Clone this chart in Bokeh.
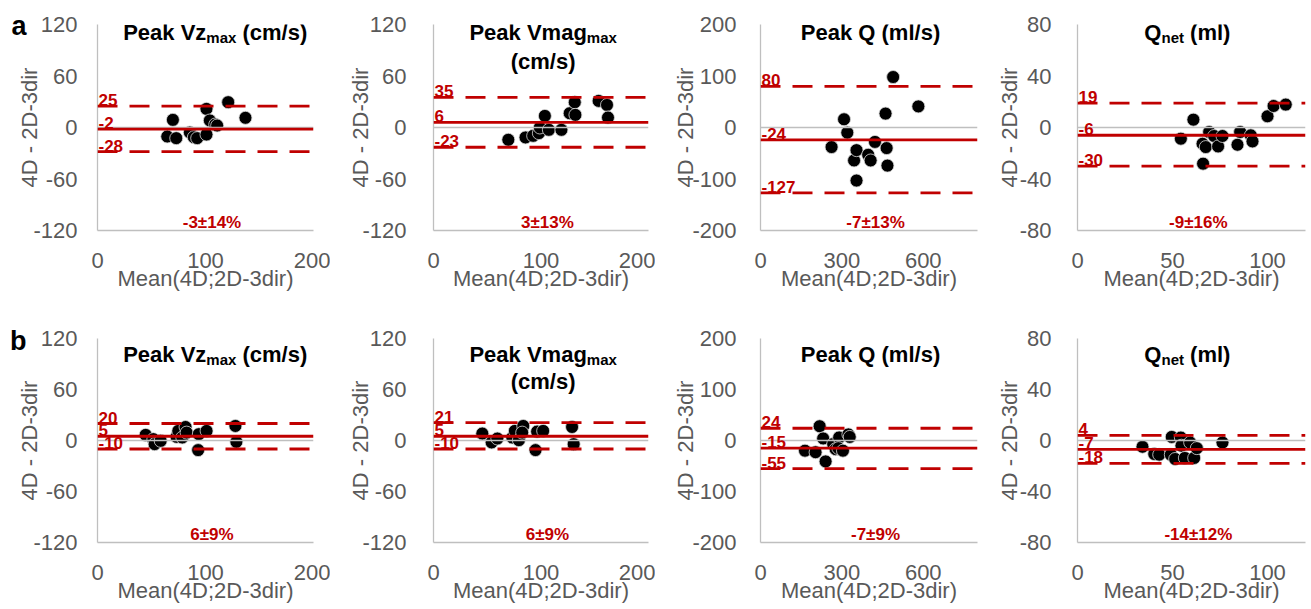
from bokeh.plotting import figure
from bokeh.layouts import row, column
from bokeh.models import Range1d, FixedTicker, Span, Label, LinearAxis
from bokeh.embed import file_html
from bokeh.resources import INLINE

# ---------------- data ----------------
# Row a
a1_x = [64.6, 69.8, 72.9, 85.5, 89.2, 92.3, 100.9, 100.9, 104.0, 109.0, 110.8, 121.0, 137.0]
a1_y = [-10.5, 8.9, -12.4, -5.8, -11.3, -12.4, 21.7, -8.2, 8.2, 3.5, 2.3, 29.5, 11.3]
a2_x = [69.6, 85.6, 92.7, 98.0, 98.9, 103.6, 107.3, 119.0, 126.7, 131.4, 132.0, 153.6, 161.4, 162.3]
a2_y = [-14.3, -11.6, -9.7, -6.6, 0.0, 13.5, -2.7, -2.7, 16.6, 29.4, 14.7, 31.0, 26.3, 11.6]
a3_x = [262, 308, 320, 345, 354, 354, 397, 406, 422, 461, 465, 468, 489, 582]
a3_y = [-38, 16, -10, -64, -44, -103, -53, -64, -28, 27, -40, -74, 98, 41]
a4_x = [54.4, 61.0, 65.8, 67.5, 66.1, 69.3, 71.9, 74.0, 76.3, 84.2, 85.6, 91.2, 92.1, 100.0, 103.2, 109.6]
a4_y = [-8.7, 6.1, -12.6, -15.2, -28.1, -3.5, -6.6, -14.7, -6.6, -13.4, -3.5, -6.1, -10.8, 8.7, 16.7, 17.8]
# Row b
b1_x = [44.6, 51.7, 52.9, 58.5, 73.2, 74.8, 78.5, 81.5, 82.5, 93.8, 93.2, 101.0, 127.7, 128.6]
b1_y = [6.6, 1.6, -4.3, -0.4, 4.3, 11.3, 3.5, 15.9, 9.3, 7.4, -11.3, 11.3, 17.1, -1.6]
b2_x = [45.4, 54.1, 59.4, 73.3, 75.7, 79.4, 83.5, 82.5, 96.4, 102.0, 94.9, 128.9, 130.4]
b2_y = [8.2, -2.3, 2.3, 3.5, 11.3, 0.4, 17.1, 9.3, 10.5, 11.3, -11.3, 15.9, -4.3]
b3_x = [164, 203, 218, 231, 240, 268, 277, 290, 287, 304, 324, 329]
b3_y = [-20, -23, 28, 4, -41, -7, -17, 6, -15, -20, 12, 7]
b4_x = [34.2, 40.4, 43.0, 49.1, 49.6, 51.4, 54.4, 54.7, 56.5, 59.3, 61.4, 62.8, 76.3]
b4_y = [-4.9, -10.6, -11.1, -11.1, 2.8, -14.5, 2.3, -4.1, -13.7, -1.6, -13.7, -6.0, -1.6]

# Bland-Altman statistics: mean bias, upper and lower limits of agreement
a_bias = [-2, 6, -24, -6]
a_upper = [25, 35, 80, 19]
a_lower = [-28, -23, -127, -30]
a_pct = ["-3\u00b114%", "3\u00b113%", "-7\u00b113%", "-9\u00b116%"]
b_bias = [5, 5, -15, -7]
b_upper = [20, 21, 24, 4]
b_lower = [-10, -10, -55, -18]
b_pct = ["6\u00b19%", "6\u00b19%", "-7\u00b19%", "-14\u00b112%"]

# axes
x_max = [200, 200, 800, 120]
y_lim = [120, 120, 200, 80]
x_ticks = [[0, 100, 200], [0, 100, 200], [0, 300, 600], [0, 50, 100]]
y_ticks = [[-120, -60, 0, 60, 120], [-120, -60, 0, 60, 120],
           [-200, -100, 0, 100, 200], [-80, -40, 0, 40, 80]]
# titles: (main, subscript, tail, second line)
titles = [("Peak Vz", "max", "(cm/s)", None),
          ("Peak Vmag", "max", "", "(cm/s)"),
          ("Peak Q (ml/s)", "", "", None),
          ("Q", "net", "(ml)", None)]
x_title = "Mean(4D;2D-3dir)"
y_title = "4D - 2D-3dir"
panel_letters = ["a", "b"]

# ---------------- styling ----------------
RED = "#C00000"
GREY_TXT = "#595959"
GREY_LN = "#BFBFBF"
FONT = "Liberation Sans"

BOLD_W = {'P': 667, 'e': 556, 'a': 556, 'k': 556, ' ': 278, 'V': 667, 'z': 500,
          'm': 889, 'g': 611, 'Q': 778, '(': 333, ')': 333, 'c': 556, '/': 278,
          's': 556, 'l': 278, 'n': 611, 't': 333, 'x': 556}


def bw(s, size):
    return sum(BOLD_W.get(ch, 556) for ch in s) * size / 1000.0


cols = [dict(W=330, left=97, right=17, ystand=14, ylab=-12, cfrac=0.545),
        dict(W=325, left=103, right=7, ystand=21, ylab=-14, cfrac=0.51),
        dict(W=330, left=105, right=8, ystand=18, ylab=-9, cfrac=0.507),
        dict(W=326, left=92, right=6, ystand=20, ylab=-5, cfrac=0.482)]
rows_cfg = [dict(H=314, top=24, bottom=84, t1=0, t2=29, letter=1),
            dict(H=291, top=24, bottom=61, t1=8, t2=36, letter=3)]
FH = 206
TF = 22   # title font size
SF = 15   # subscript font size
SP = 278 * TF / 1000.0  # width of a space in the title font
LW = 2.8

data = [[(a1_x, a1_y), (a2_x, a2_y), (a3_x, a3_y), (a4_x, a4_y)],
        [(b1_x, b1_y), (b2_x, b2_y), (b3_x, b3_y), (b4_x, b4_y)]]
stats = [(a_bias, a_upper, a_lower, a_pct), (b_bias, b_upper, b_lower, b_pct)]


def style_axis(ax):
    ax.axis_line_color = GREY_LN
    ax.axis_line_width = 1.3
    ax.major_tick_line_color = None
    ax.minor_tick_line_color = None
    ax.major_label_text_font = FONT
    ax.major_label_text_font_size = "22px"
    ax.major_label_text_color = GREY_TXT
    ax.axis_label_text_font = FONT
    ax.axis_label_text_font_size = "22px"
    ax.axis_label_text_font_style = "normal"
    ax.axis_label_text_color = GREY_TXT


def make(ri, ci):
    c = cols[ci]
    r = rows_cfg[ri]
    xm, yl = x_max[ci], y_lim[ci]
    dy = 2 * yl / FH
    p = figure(width=c["W"], height=r["H"], x_range=Range1d(0, xm), y_range=Range1d(-yl, yl),
               output_backend="svg", toolbar_location=None,
               min_border_left=c["left"], min_border_right=c["right"],
               min_border_top=r["top"], min_border_bottom=r["bottom"])
    p.outline_line_color = None
    p.grid.visible = False
    xa, ya = p.xaxis[0], p.yaxis[0]
    style_axis(xa)
    style_axis(ya)
    xa.ticker = FixedTicker(ticks=x_ticks[ci])
    ya.ticker = FixedTicker(ticks=y_ticks[ci])
    ya.major_label_overrides = {t: str(t) for t in y_ticks[ci]}
    xa.axis_label = x_title
    ya.axis_label = y_title
    xa.major_label_standoff = 16
    xa.axis_label_standoff = -5
    ya.major_label_standoff = c["ystand"]
    ya.axis_label_standoff = c["ylab"]

    bias, up, lo, pct = stats[ri]
    p.add_layout(Span(location=0, dimension="width", line_color=GREY_LN, line_width=1.3))
    p.add_layout(Span(location=bias[ci], dimension="width", line_color=RED, line_width=LW))
    for v in (up[ci], lo[ci]):
        p.add_layout(Span(location=v, dimension="width", line_color=RED, line_width=LW,
                          line_dash="20 12"))

    xs, ys = data[ri][ci]
    p.scatter(xs, ys, size=13, fill_color="black", line_color="#d9d9d9", line_width=0.8)

    for v in (up[ci], bias[ci], lo[ci]):
        p.add_layout(Label(x=0, y=v, x_offset=1, text=str(v), text_font=FONT,
                           text_font_size="17px", text_font_style="bold", text_color=RED,
                           text_align="left", text_baseline="bottom"))
    p.add_layout(Label(x=0.53 * xm, y=-yl + 8 * dy, text=pct[ci], text_font=FONT,
                       text_font_size="17px", text_font_style="bold", text_color=RED,
                       text_align="center", text_baseline="middle"))

    # title (inside the plot area)
    main, sub, tail, line2 = titles[ci]
    cx = c["cfrac"] * xm
    base1 = yl - (r["t1"] + 0.358 * TF) * dy
    w1, ws = bw(main, TF), bw(sub, SF)
    w3 = (SP + bw(tail, TF)) if tail else 0
    W = w1 + ws + w3
    common = dict(text_font=FONT, text_font_style="bold", text_color="black",
                  text_baseline="alphabetic")
    p.add_layout(Label(x=cx, y=base1, x_offset=-W / 2 + w1, text=main, text_align="right",
                       text_font_size=f"{TF}px", **common))
    if sub:
        p.add_layout(Label(x=cx, y=base1 - 5 * dy, x_offset=-W / 2 + w1, text=sub,
                           text_align="left", text_font_size=f"{SF}px", **common))
    if tail:
        p.add_layout(Label(x=cx, y=base1, x_offset=-W / 2 + w1 + ws + SP, text=tail,
                           text_align="left", text_font_size=f"{TF}px", **common))
    if line2:
        base2 = yl - (r["t2"] + 0.358 * TF) * dy
        p.add_layout(Label(x=cx, y=base2, text=line2, text_align="center",
                           text_font_size=f"{TF}px", **common))

    if ci == 0:
        # panel letter drawn as an outer left axis label (outside the plot frame)
        t = yl - r["letter"] * dy
        la = LinearAxis(ticker=FixedTicker(ticks=[t]),
                        major_label_overrides={t: panel_letters[ri]})
        la.axis_line_color = None
        la.major_tick_line_color = None
        la.minor_tick_line_color = None
        la.major_tick_out = 0
        la.major_tick_in = 0
        la.major_label_standoff = -12
        la.major_label_text_font = FONT
        la.major_label_text_font_size = "27px"
        la.major_label_text_font_style = "bold"
        la.major_label_text_color = "black"
        p.add_layout(la, "left")
    return p


layout = column(row(*[make(0, i) for i in range(4)]),
                row(*[make(1, i) for i in range(4)]))

open("out.html", "w").write(file_html(layout, INLINE))
